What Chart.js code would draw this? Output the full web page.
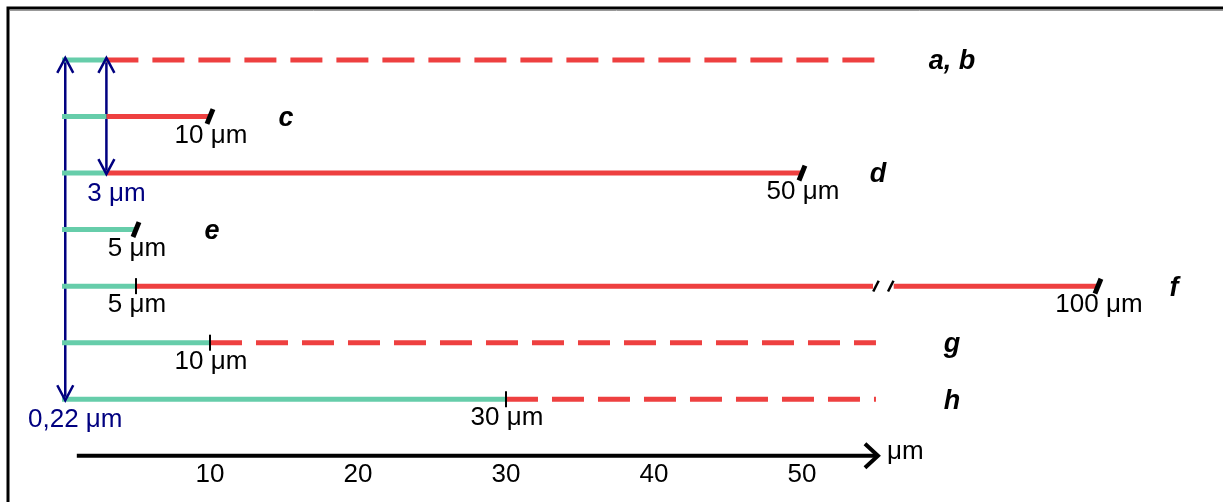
<!DOCTYPE html>
<html>
  <head>
    <title>Lengths</title>
    <script src="https://cdn.jsdelivr.net/npm/chart.js@4/dist/chart.umd.min.js"></script>
    <style>
      body { margin: 0; background: #fff; }
    </style>
  </head>
  <body>
    <canvas id="lengths" width="1223" height="502"></canvas>
    <script>
      // rows, top to bottom (lengths in µm)
      const rowNames = ['a, b', 'c', 'd', 'e', 'f', 'g', 'h'];
      const greenEnd = [3, 3, 3, 5, 5, 10, 30];
      const redEnd = [55, 10, 50, null, 100, 55, 55];   // null = no red part
      const openEnded = [true, false, false, false, false, true, true];
      const endLabels = [[], [10], [50], [5], [5, 100], [10], [30]];
      const arrowAt = [0.22, 3];
      const arrowRows = [[0, 6], [0, 2]];
      const axisTicks = [10, 20, 30, 40, 50];
      const axisRange = [1, 55];
      const axisCut = [55, 86]; // skipped part of row f

      const GREEN = 'rgb(102, 205, 170)';
      const RED = 'rgb(238, 64, 64)';
      const NAVY = '#000080';
      const FONT = '"Liberation Sans", Arial, sans-serif';

      // broken axis: everything past the cut is shifted left
      function mapX(v) {
        return v <= axisCut[0] ? v : v - (axisCut[1] - axisCut[0]) + 1;
      }
      function fmt(v) {
        return String(v).replace('.', ',') + ' \u03bcm';
      }

      const datasets = [];
      const lineDs = (data, color, width, dash) => ({
        type: 'line', data: data, borderColor: color, borderWidth: width,
        borderDash: dash || [], borderCapStyle: 'butt', pointRadius: 0,
        spanGaps: false, clip: false, order: 2
      });

      const slanted = [], ticks = [], cuts = [];
      for (let i = 0; i < rowNames.length; i++) {
        datasets.push(lineDs([{x: 0, y: i}, {x: mapX(greenEnd[i]), y: i}], GREEN, 5));
        if (redEnd[i] !== null) {
          let pts;
          if (redEnd[i] > axisCut[0]) {
            pts = [{x: greenEnd[i], y: i}, {x: mapX(axisCut[0]) - 0.2, y: i}, {x: 55.5, y: null},
                   {x: mapX(axisCut[1]) + 0.2, y: i}, {x: mapX(redEnd[i]), y: i}];
            cuts.push({x: mapX(axisCut[0]), y: i}, {x: mapX(axisCut[1]), y: i});
          } else {
            pts = [{x: mapX(greenEnd[i]), y: i}, {x: mapX(redEnd[i]), y: i}];
          }
          datasets.push(lineDs(pts, RED, 5, openEnded[i] ? [32, 14] : []));
        }
        endLabels[i].forEach(v => {
          if (v === greenEnd[i] && redEnd[i] !== null) ticks.push({x: mapX(v), y: i});
          else slanted.push({x: mapX(v), y: i});
        });
      }
      arrowAt.forEach((v, k) => {
        datasets.push(lineDs([{x: v, y: arrowRows[k][0]}, {x: v, y: arrowRows[k][1]}], NAVY, 2.5));
      });
      datasets.push(lineDs([{x: axisRange[0], y: 7}, {x: axisRange[1], y: 7}], '#000', 4));

      const markDs = (data, rot, r, w) => ({
        type: 'line', data: data, showLine: false, pointStyle: 'line',
        pointRotation: rot, pointRadius: r, pointBorderWidth: w,
        pointBorderColor: '#000', clip: false, order: 0
      });
      datasets.push(markDs(slanted, 112, 8, 5));
      datasets.push(markDs(ticks, 90, 8, 2));
      datasets.push(markDs(cuts, 117, 6, 2.5));

      const drawings = {
        id: 'drawings',
        beforeDraw(chart) {
          const ctx = chart.ctx;
          ctx.save();
          ctx.fillStyle = '#fff';
          ctx.fillRect(0, 0, chart.width, chart.height);
          ctx.strokeStyle = '#999';
          ctx.lineWidth = 1;
          ctx.beginPath(); ctx.moveTo(10, 10.5); ctx.lineTo(chart.width, 10.5); ctx.stroke();
          ctx.strokeStyle = '#000';
          ctx.lineWidth = 3;
          ctx.beginPath();
          ctx.moveTo(8, chart.height); ctx.lineTo(8, 8); ctx.lineTo(chart.width, 8);
          ctx.stroke();
          ctx.restore();
        },
        afterDatasetsDraw(chart) {
          const ctx = chart.ctx;
          const x = chart.scales.x, y = chart.scales.y;
          const px = v => x.getPixelForValue(mapX(v));
          const py = r => y.getPixelForValue(r);
          ctx.save();
          ctx.textAlign = 'center';
          ctx.textBaseline = 'middle';

          // double arrows
          ctx.strokeStyle = NAVY;
          ctx.lineWidth = 2.5;
          arrowAt.forEach((v, k) => {
            const ax = px(v);
            const top = py(arrowRows[k][0]) - 2, bot = py(arrowRows[k][1]) + 1;
            ctx.beginPath();
            ctx.moveTo(ax - 8, top + 15); ctx.lineTo(ax, top); ctx.lineTo(ax + 8, top + 15);
            ctx.moveTo(ax - 8, bot - 15); ctx.lineTo(ax, bot); ctx.lineTo(ax + 8, bot - 15);
            ctx.stroke();
            ctx.fillStyle = NAVY;
            ctx.font = '26px ' + FONT;
            ctx.fillText(fmt(v), ax + 10, bot + 20);
          });

          // axis arrow head and unit
          const tipX = px(axisRange[1]) + 2, axY = py(7);
          ctx.strokeStyle = '#000';
          ctx.lineWidth = 4;
          ctx.beginPath();
          ctx.moveTo(tipX - 13, axY - 12); ctx.lineTo(tipX, axY); ctx.lineTo(tipX - 13, axY + 12);
          ctx.stroke();
          ctx.fillStyle = '#000';
          ctx.font = '26px ' + FONT;
          ctx.textAlign = 'left';
          ctx.fillText('\u03bcm', tipX + 9, axY - 4);
          ctx.textAlign = 'center';

          // value labels and row names
          for (let i = 0; i < rowNames.length; i++) {
            ctx.font = '26px ' + FONT;
            endLabels[i].forEach(v => ctx.fillText(fmt(v), px(v) + 1, py(i) + 19));
            const end = openEnded[i] ? axisRange[1] : (redEnd[i] !== null ? redEnd[i] : greenEnd[i]);
            ctx.font = 'italic bold 27px ' + FONT;
            ctx.fillText(rowNames[i], px(end) + 76, py(i) + 2);
          }
          ctx.restore();
        }
      };

      new Chart(document.getElementById('lengths'), {
        type: 'line',
        data: { datasets: datasets },
        options: {
          responsive: false,
          animation: false,
          layout: { autoPadding: false, padding: { left: 0, right: 0, top: 0, bottom: 9 } },
          plugins: { legend: { display: false }, tooltip: { enabled: false } },
          scales: {
            x: {
              type: 'linear', min: -4.19, max: 78.45,
              afterBuildTicks: s => { s.ticks = axisTicks.map(v => ({ value: v })); },
              grid: { display: false, drawTicks: false },
              border: { display: false },
              ticks: { color: '#000', padding: 3, font: { size: 26, family: FONT } }
            },
            y: { type: 'linear', display: false, reverse: true, min: -1.06, max: 7 }
          }
        },
        plugins: [drawings]
      });
    </script>
  </body>
</html>
